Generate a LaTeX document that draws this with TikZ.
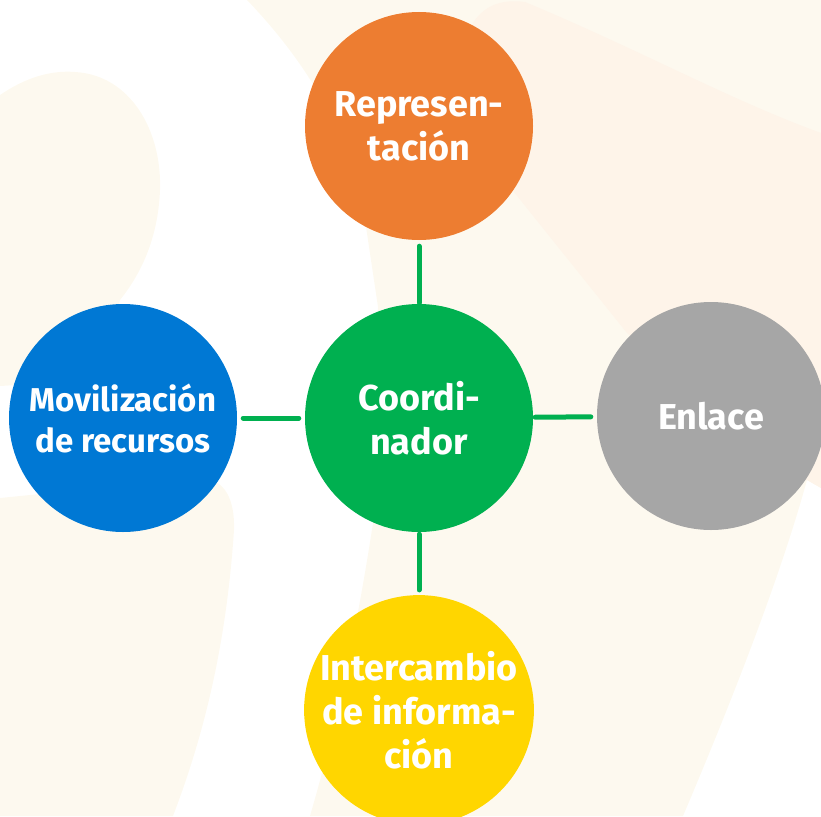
\documentclass[tikz,border=0pt]{standalone}
\usepackage{fontspec}
\setmainfont{Fira Sans}
\usepackage{tikz}
\definecolor{naranja}{RGB}{237,125,49}
\definecolor{verde}{RGB}{0,176,80}
\definecolor{azul}{RGB}{0,120,212}
\definecolor{gris}{RGB}{166,166,166}
\definecolor{amarillo}{RGB}{255,214,0}
\definecolor{crema}{RGB}{253,249,239}
\definecolor{durazno}{RGB}{254,244,233}

\begin{document}
\begin{tikzpicture}[x=1pt,y=-1pt,
  circulo/.style={circle,minimum size=228pt,inner sep=0pt,text=white,align=center,font=\fontsize{36}{44}\selectfont\bfseries},
  conector/.style={line width=5pt,verde,line cap=round}]
\useasboundingbox (0,0) rectangle (821,816);
\fill [crema] (247,0) .. controls (290,45) and (340,110) .. (362,200) -- (378,307) -- (373,523) .. controls (355,640) and (335,730) .. (310,816) -- (683,816) .. controls (745,670) and (785,560) .. (807,480) -- (821,488) -- (821,0) -- cycle;
\fill [durazno] (430,110) -- (465,40) .. controls (475,10) and (495,-2) .. (525,2) .. controls (640,50) and (730,100) .. (821,133) -- (821,488) -- (807,480) -- (627,333) -- (510,187) -- cycle;
\fill [crema] (0,95) .. controls (25,78) and (50,70) .. (75,72) .. controls (130,75) and (162,130) .. (160,190) .. controls (158,240) and (140,275) .. (120,300) -- (100,380) -- (0,386) -- cycle;
\fill [crema] (0,498) -- (200,478) .. controls (225,478) and (235,500) .. (234,530) .. controls (226,650) and (202,740) .. (173,816) -- (0,816) -- cycle;
\node [circulo,fill=verde] (coord) at (419,418) {Coordi-\\nador};
\node [circulo,fill=naranja] (repre) at (419,126) {Represen-\\tación};
\node [circulo,fill=azul,font=\fontsize{33}{41}\selectfont\bfseries] (movil) at (123,418) {Movilización\\de recursos};
\node [circulo,fill=gris] (enlace) at (711,416) {Enlace};
\node [circulo,fill=amarillo] (inter) at (419,710) {Intercambio\\de informa-\\ción};
\draw [conector,shorten <=6pt,shorten >=1pt] (repre) -- (coord);
\draw [conector,shorten <=6pt,shorten >=6pt] (movil) -- (coord);
\draw [conector,shorten <=6pt,shorten >=2pt] (enlace) -- (coord);
\draw [conector,shorten <=5pt,shorten >=2pt] (inter) -- (coord);
\end{tikzpicture}
\end{document}
